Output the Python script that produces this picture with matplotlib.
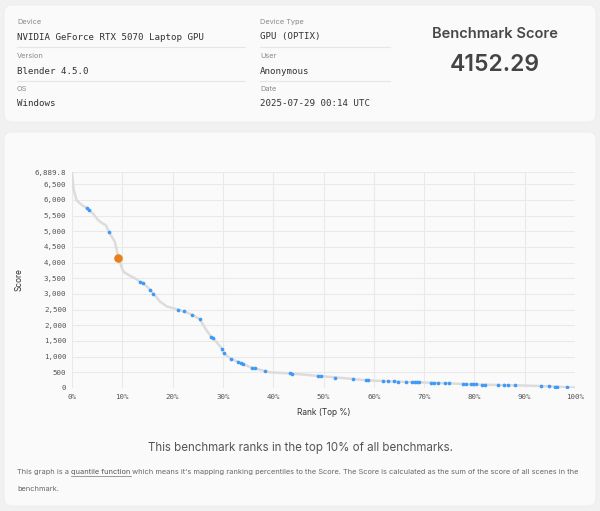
import matplotlib
matplotlib.use("Agg")
import matplotlib.pyplot as plt
from matplotlib.patches import FancyBboxPatch
from matplotlib.lines import Line2D
from matplotlib.ticker import FuncFormatter

W, H = 600, 511

# header info
left_labels = ["Device", "Version", "OS"]
left_values = ["NVIDIA GeForce RTX 5070 Laptop GPU", "Blender 4.5.0", "Windows"]
mid_labels = ["Device Type", "User", "Date"]
mid_values = ["GPU (OPTIX)", "Anonymous", "2025-07-29 00:14 UTC"]
score_title = "Benchmark Score"
score_value = 4152.29

# quantile curve (rank %, score)
curve_rank = [0, 0.3, 0.9, 2.0, 2.9, 3.3, 4.2, 5.2, 6.0, 6.7, 7.4, 8.0, 8.5, 8.9, 9.2,
              9.6, 10.2, 11.5, 12.5, 13.5, 14.2, 15.5, 16.2, 17.5, 18.9, 21.1, 22.2,
              23.9, 25.4, 26.5, 27.7, 28.0, 29.9, 30.2, 31.6, 33.1, 34.0, 35.7, 36.4,
              38.3, 39.5, 43.3, 49.2, 52.4, 55.9, 58.5, 61.8, 64.8, 69.0, 72.8, 75.0,
              79.3, 82.2, 86.6, 88.1, 93.2, 96.5, 98.5, 100]
curve_score = [6889.8, 6350, 5990, 5830, 5745, 5692, 5560, 5353, 5260, 5194, 4971, 4800,
               4664, 4400, 4152, 3975, 3710, 3580, 3500, 3392, 3339, 3138, 3010, 2756,
               2597, 2502, 2449, 2332, 2194, 1900, 1622, 1601, 1240, 1102, 933, 827, 763,
               647, 625, 541, 498, 466, 382, 339, 287, 245, 223, 202, 181, 160, 149, 117,
               106, 85, 85, 64, 43, 21, 10]

# other benchmarks shown as points
pt_rank = [2.9, 3.3, 7.4, 13.5, 14.2, 15.5, 16.2, 21.1, 22.2, 23.9, 25.4, 27.7, 28.0,
           29.9, 30.2, 31.6, 33.1, 33.5, 34.0, 35.7, 36.4, 38.3, 43.3, 43.7, 48.9, 49.6,
           52.2, 55.9, 58.5, 58.9, 61.8, 62.8, 64.0, 64.8, 66.5, 67.5, 68.1, 68.6, 69.0,
           71.3, 72.0, 72.8, 74.1, 75.0, 77.7, 78.4, 79.3, 79.7, 80.3, 81.5, 82.2, 84.6,
           85.9, 86.6, 88.1, 93.2, 94.9, 96.0, 96.5, 98.5]
pt_score = [5745, 5692, 4971, 3392, 3339, 3138, 3010, 2502, 2449, 2332, 2194, 1622, 1601,
            1240, 1102, 933, 827, 795, 763, 647, 625, 541, 466, 456, 372, 372, 330, 287,
            245, 245, 223, 223, 213, 202, 192, 192, 192, 186, 181, 170, 170, 160, 149, 149,
            128, 128, 117, 117, 117, 106, 106, 96, 96, 85, 85, 64, 53, 43, 43, 21]

this_rank = 9.2
y_max = 6889.8
y_ticks = [0, 500, 1000, 1500, 2000, 2500, 3000, 3500, 4000, 4500, 5000, 5500, 6000, 6500, y_max]
x_ticks = [0, 10, 20, 30, 40, 50, 60, 70, 80, 90, 100]

summary = "This benchmark ranks in the top 10% of all benchmarks."
note_a = "This graph is a "
note_link = "quantile function"
note_b = (" which means it's mapping ranking percentiles to the Score. The Score is "
          "calculated as the sum of the score of all scenes in the")
note_c = "benchmark."

SANS = ["Inter", "DejaVu Sans"]
MONO = ["DejaVu Sans Mono"]

fig = plt.figure(figsize=(W / 100, H / 100), dpi=100)
fig.patch.set_facecolor("#f1f1f1")


def fx(px):
    return px / W


def fy(py):
    return 1 - py / H


def card(x0, y0, x1, y1):
    r = 8
    p = FancyBboxPatch((fx(x0 + r), fy(y1 - r)), fx(x1 - x0 - 2 * r), (y1 - y0 - 2 * r) / H,
                       boxstyle="round,pad=%f" % (r / W), transform=fig.transFigure,
                       facecolor="#fafafa", edgecolor="#ececec", lw=0.6, zorder=-5,
                       mutation_aspect=W / H)
    fig.patches.append(p)


card(4, 5, 596, 122)
card(4, 132, 596, 506)

# header columns
rows_y = [22, 56, 89]
for col_x, labels, values, sep_w in [(17, left_labels, left_values, 228),
                                     (260, mid_labels, mid_values, 130)]:
    for i, (lab, val) in enumerate(zip(labels, values)):
        y = rows_y[i]
        fig.text(fx(col_x), fy(y), lab, family=SANS, fontsize=5.3, color="#8a8a8a",
                 va="center", ha="left")
        fig.text(fx(col_x), fy(y + 15), val, family=MONO, fontsize=6.6, color="#333333",
                 va="center", ha="left")
        if i < 2:
            fig.lines.append(Line2D([fx(col_x), fx(col_x + sep_w)], [fy(y + 25)] * 2,
                                    transform=fig.transFigure, color="#e6e6e6", lw=0.8))

fig.text(fx(495), fy(34), score_title, family=SANS, fontsize=10.6, fontweight="semibold",
         color="#484848", ha="center", va="center")
fig.text(fx(495), fy(65), f"{score_value:.2f}", family=SANS, fontsize=16.5,
         fontweight="semibold", color="#444444", ha="center", va="center")

# chart
ax = fig.add_axes([fx(72), fy(388), fx(575 - 72), (388 - 172) / H])
ax.set_facecolor("#fafafa")
ax.plot(curve_rank, curve_score, color="#dcdcdc", lw=1.8, zorder=2,
        solid_capstyle="round", solid_joinstyle="round")
ax.scatter(pt_rank, pt_score, s=7, color="#3d9bf7", zorder=3, linewidths=0)
ax.scatter([this_rank], [score_value], s=38, color="#e8811c", zorder=4, linewidths=0)

ax.set_xlim(0, 100)
ax.set_ylim(0, y_max)
ax.set_xticks(x_ticks)
ax.set_yticks(y_ticks)
ax.xaxis.set_major_formatter(FuncFormatter(lambda v, p: f"{v:.0f}%"))
ax.yaxis.set_major_formatter(FuncFormatter(
    lambda v, p: f"{v:,.1f}" if v == y_max else f"{v:,.0f}"))
for lab in ax.get_xticklabels() + ax.get_yticklabels():
    lab.set_family(MONO)
    lab.set_fontsize(5.4)
    lab.set_color("#555555")
ax.tick_params(length=0, pad=4)
ax.grid(True, color="#e9e9e9", lw=0.8)
ax.set_axisbelow(True)
for s in ax.spines.values():
    s.set_visible(False)
ax.set_xlabel("Rank (Top %)", family=SANS, fontsize=6, color="#333333", labelpad=6)
ax.set_ylabel("Score", family=SANS, fontsize=6, color="#333333", labelpad=8)

fig.text(0.5, fy(448), summary, family=SANS, fontsize=8.3, color="#555555",
         ha="center", va="center")

# footnote with underlined link
fig.canvas.draw()
r = fig.canvas.get_renderer()
fs = 5.3
t1 = fig.text(fx(17), fy(474), note_a, family=SANS, fontsize=fs, color="#666666",
              va="baseline", ha="left")
e1 = t1.get_window_extent(r)
t2 = fig.text(e1.x1 / W, fy(474), note_link, family=SANS, fontsize=fs, color="#555555",
              va="baseline", ha="left")
e2 = t2.get_window_extent(r)
fig.lines.append(Line2D([e2.x0 / W, e2.x1 / W], [fy(476)] * 2, transform=fig.transFigure,
                        color="#777777", lw=0.5))
fig.text(e2.x1 / W, fy(474), note_b, family=SANS, fontsize=fs, color="#666666",
         va="baseline", ha="left")
fig.text(fx(17), fy(491), note_c, family=SANS, fontsize=fs, color="#666666",
         va="baseline", ha="left")

fig.savefig("out.png", dpi=100, facecolor=fig.get_facecolor())
